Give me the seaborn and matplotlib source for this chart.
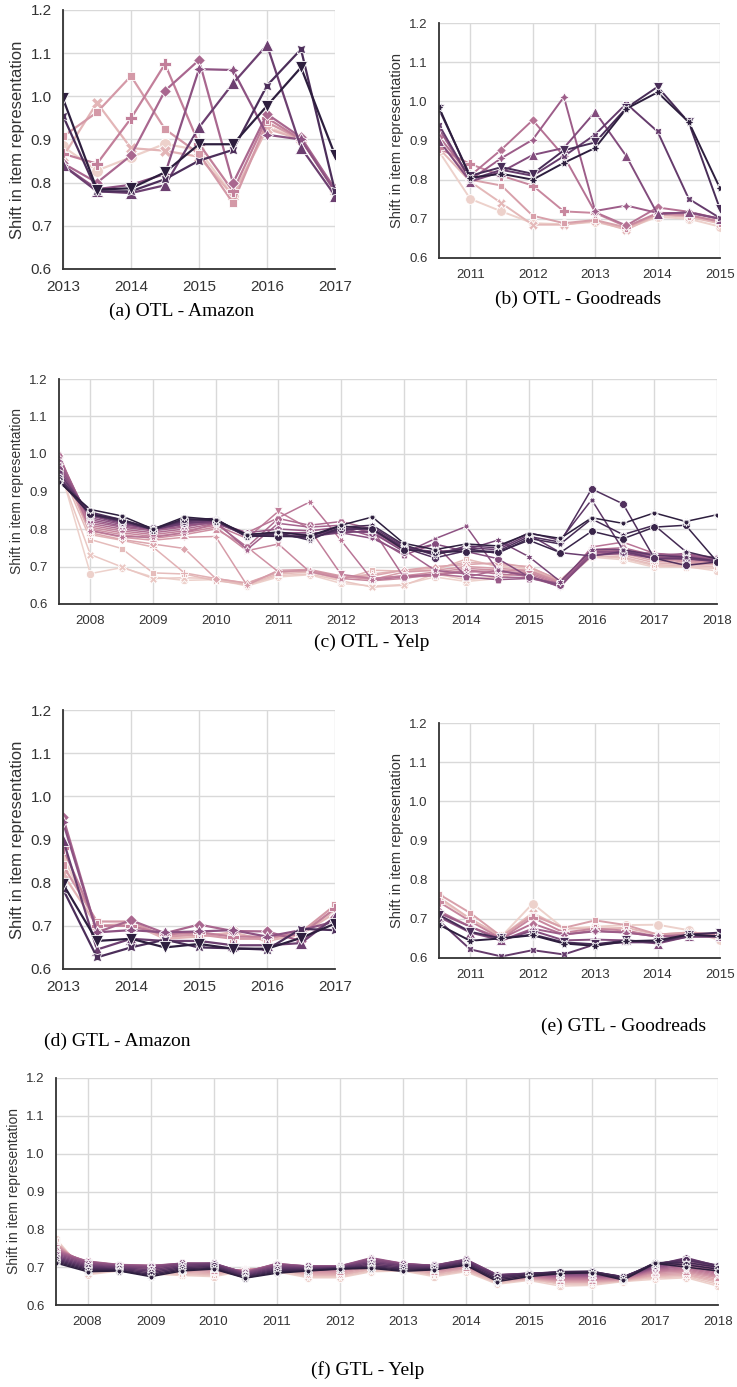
import matplotlib
matplotlib.use("Agg")
import matplotlib.pyplot as plt
import pandas as pd
import seaborn as sns

# --- DATA ---
amazon_years = [2013, 2013.5, 2014, 2014.5, 2015, 2015.5, 2016, 2016.5, 2017]
amazon_ticks = [2013, 2014, 2015, 2016, 2017]
goodreads_years = [2010.5, 2011, 2011.5, 2012, 2012.5, 2013, 2013.5, 2014, 2014.5, 2015]
goodreads_ticks = [2011, 2012, 2013, 2014, 2015]
yelp_years = [2007.5, 2008, 2008.5, 2009, 2009.5, 2010, 2010.5, 2011, 2011.5, 2012, 2012.5,
              2013, 2013.5, 2014, 2014.5, 2015, 2015.5, 2016, 2016.5, 2017, 2017.5, 2018]
yelp_ticks = [2008, 2009, 2010, 2011, 2012, 2013, 2014, 2015, 2016, 2017, 2018]
y_ticks = [0.6, 0.7, 0.8, 0.9, 1.0, 1.1, 1.2]

otl_amazon = [
    [0.884, 0.828, 0.859, 0.890, 0.875, 0.770, 0.930, 0.900, 0.780],
    [0.860, 0.985, 0.880, 0.874, 0.860, 0.770, 0.925, 0.900, 0.780],
    [0.907, 0.963, 1.047, 0.924, 0.867, 0.753, 0.940, 0.900, 0.780],
    [0.867, 0.844, 0.949, 1.075, 0.890, 0.780, 0.950, 0.900, 0.785],
    [0.845, 0.800, 0.863, 1.013, 1.084, 0.799, 0.959, 0.905, 0.785],
    [0.840, 0.785, 0.795, 0.820, 1.063, 1.061, 0.911, 0.900, 0.780],
    [0.840, 0.780, 0.776, 0.794, 0.928, 1.030, 1.119, 0.881, 0.770],
    [0.955, 0.780, 0.780, 0.808, 0.851, 0.876, 1.025, 1.109, 0.780],
    [0.995, 0.784, 0.787, 0.824, 0.889, 0.889, 0.978, 1.067, 0.864],
]

otl_goodreads = [
    [0.872, 0.751, 0.719, 0.689, 0.686, 0.692, 0.675, 0.705, 0.700, 0.680],
    [0.880, 0.795, 0.740, 0.685, 0.685, 0.695, 0.672, 0.710, 0.705, 0.688],
    [0.900, 0.800, 0.785, 0.708, 0.689, 0.697, 0.678, 0.712, 0.708, 0.695],
    [0.880, 0.840, 0.810, 0.785, 0.719, 0.715, 0.680, 0.715, 0.710, 0.692],
    [0.910, 0.810, 0.877, 0.952, 0.860, 0.717, 0.683, 0.729, 0.718, 0.700],
    [0.930, 0.800, 0.855, 0.902, 1.011, 0.720, 0.734, 0.715, 0.715, 0.700],
    [0.900, 0.795, 0.820, 0.863, 0.881, 0.973, 0.860, 0.712, 0.717, 0.700],
    [0.940, 0.800, 0.825, 0.810, 0.860, 0.915, 0.994, 0.923, 0.751, 0.702],
    [0.980, 0.810, 0.832, 0.815, 0.875, 0.895, 0.983, 1.037, 0.946, 0.725],
    [0.985, 0.805, 0.815, 0.800, 0.843, 0.881, 0.981, 1.023, 0.947, 0.778],
]

otl_yelp = [
    [0.970, 0.681, 0.697, 0.672, 0.663, 0.665, 0.648, 0.672, 0.678, 0.655, 0.648, 0.652, 0.672, 0.660, 0.668, 0.688, 0.655, 0.725, 0.718, 0.698, 0.700, 0.688],
    [0.960, 0.732, 0.699, 0.668, 0.670, 0.668, 0.650, 0.676, 0.680, 0.662, 0.645, 0.650, 0.680, 0.665, 0.672, 0.690, 0.657, 0.728, 0.722, 0.702, 0.698, 0.695],
    [0.970, 0.772, 0.748, 0.683, 0.680, 0.662, 0.652, 0.680, 0.685, 0.665, 0.690, 0.688, 0.690, 0.720, 0.700, 0.695, 0.660, 0.730, 0.725, 0.705, 0.702, 0.700],
    [0.980, 0.785, 0.770, 0.752, 0.683, 0.668, 0.655, 0.684, 0.688, 0.670, 0.680, 0.690, 0.695, 0.712, 0.705, 0.700, 0.662, 0.735, 0.730, 0.710, 0.705, 0.705],
    [0.990, 0.790, 0.772, 0.760, 0.748, 0.668, 0.656, 0.686, 0.690, 0.672, 0.675, 0.690, 0.700, 0.705, 0.710, 0.698, 0.664, 0.738, 0.735, 0.715, 0.708, 0.708],
    [0.980, 0.795, 0.778, 0.770, 0.778, 0.780, 0.650, 0.690, 0.692, 0.675, 0.665, 0.685, 0.690, 0.700, 0.695, 0.690, 0.660, 0.740, 0.740, 0.720, 0.712, 0.710],
    [0.990, 0.800, 0.785, 0.775, 0.785, 0.800, 0.752, 0.686, 0.690, 0.672, 0.668, 0.675, 0.685, 0.695, 0.690, 0.688, 0.658, 0.735, 0.745, 0.722, 0.715, 0.712],
    [0.980, 0.805, 0.790, 0.780, 0.790, 0.805, 0.742, 0.760, 0.686, 0.668, 0.662, 0.668, 0.680, 0.690, 0.685, 0.684, 0.655, 0.740, 0.740, 0.725, 0.718, 0.715],
    [0.990, 0.810, 0.795, 0.785, 0.795, 0.810, 0.775, 0.847, 0.800, 0.679, 0.668, 0.675, 0.678, 0.685, 0.688, 0.680, 0.652, 0.742, 0.745, 0.728, 0.720, 0.718],
    [1.000, 0.796, 0.780, 0.778, 0.790, 0.815, 0.790, 0.830, 0.872, 0.770, 0.664, 0.672, 0.675, 0.690, 0.680, 0.675, 0.650, 0.752, 0.765, 0.735, 0.725, 0.720],
    [0.995, 0.815, 0.800, 0.790, 0.800, 0.815, 0.752, 0.828, 0.810, 0.820, 0.800, 0.672, 0.680, 0.672, 0.690, 0.672, 0.652, 0.745, 0.750, 0.730, 0.728, 0.722],
    [0.990, 0.820, 0.805, 0.795, 0.805, 0.820, 0.745, 0.815, 0.805, 0.810, 0.790, 0.745, 0.690, 0.680, 0.672, 0.670, 0.648, 0.730, 0.740, 0.735, 0.730, 0.725],
    [0.980, 0.825, 0.808, 0.798, 0.808, 0.818, 0.790, 0.800, 0.795, 0.805, 0.780, 0.730, 0.760, 0.672, 0.665, 0.668, 0.655, 0.735, 0.742, 0.728, 0.735, 0.722],
    [0.970, 0.830, 0.812, 0.800, 0.812, 0.815, 0.785, 0.790, 0.790, 0.790, 0.775, 0.735, 0.774, 0.807, 0.690, 0.675, 0.645, 0.740, 0.738, 0.730, 0.728, 0.718],
    [0.960, 0.835, 0.815, 0.802, 0.815, 0.818, 0.785, 0.780, 0.785, 0.795, 0.790, 0.740, 0.760, 0.740, 0.721, 0.672, 0.650, 0.730, 0.735, 0.722, 0.725, 0.715],
    [0.950, 0.840, 0.820, 0.800, 0.818, 0.820, 0.780, 0.785, 0.780, 0.790, 0.795, 0.748, 0.740, 0.745, 0.770, 0.726, 0.660, 0.745, 0.745, 0.720, 0.722, 0.712],
    [0.950, 0.838, 0.818, 0.798, 0.815, 0.822, 0.785, 0.790, 0.785, 0.800, 0.800, 0.752, 0.735, 0.750, 0.745, 0.785, 0.737, 0.728, 0.740, 0.722, 0.720, 0.715],
    [0.940, 0.842, 0.822, 0.800, 0.820, 0.825, 0.780, 0.782, 0.778, 0.795, 0.805, 0.755, 0.730, 0.755, 0.750, 0.790, 0.770, 0.878, 0.745, 0.730, 0.725, 0.715],
    [0.935, 0.845, 0.825, 0.802, 0.822, 0.825, 0.782, 0.785, 0.775, 0.800, 0.800, 0.750, 0.723, 0.742, 0.740, 0.780, 0.765, 0.907, 0.867, 0.722, 0.703, 0.712],
    [0.930, 0.838, 0.822, 0.800, 0.825, 0.828, 0.778, 0.790, 0.770, 0.805, 0.810, 0.758, 0.732, 0.748, 0.735, 0.775, 0.760, 0.827, 0.785, 0.810, 0.740, 0.720],
    [0.930, 0.840, 0.825, 0.798, 0.828, 0.822, 0.782, 0.780, 0.780, 0.808, 0.800, 0.745, 0.738, 0.740, 0.738, 0.770, 0.737, 0.794, 0.774, 0.805, 0.810, 0.713],
    [0.925, 0.852, 0.835, 0.800, 0.832, 0.825, 0.785, 0.792, 0.782, 0.810, 0.832, 0.762, 0.745, 0.760, 0.755, 0.788, 0.775, 0.830, 0.815, 0.843, 0.820, 0.838],
]

gtl_amazon = [
    [0.860, 0.700, 0.700, 0.675, 0.680, 0.680, 0.670, 0.685, 0.735],
    [0.820, 0.700, 0.705, 0.670, 0.675, 0.685, 0.665, 0.680, 0.730],
    [0.840, 0.710, 0.710, 0.675, 0.680, 0.670, 0.670, 0.685, 0.748],
    [0.880, 0.700, 0.700, 0.680, 0.685, 0.675, 0.675, 0.680, 0.740],
    [0.952, 0.685, 0.713, 0.683, 0.703, 0.688, 0.687, 0.665, 0.720],
    [0.940, 0.685, 0.690, 0.685, 0.687, 0.690, 0.675, 0.690, 0.710],
    [0.900, 0.645, 0.670, 0.665, 0.665, 0.655, 0.655, 0.660, 0.720],
    [0.785, 0.627, 0.650, 0.668, 0.650, 0.648, 0.645, 0.693, 0.690],
    [0.797, 0.665, 0.670, 0.650, 0.658, 0.647, 0.647, 0.672, 0.705],
]

gtl_goodreads = [
    [0.750, 0.700, 0.655, 0.739, 0.675, 0.680, 0.684, 0.685, 0.671, 0.645],
    [0.755, 0.700, 0.655, 0.715, 0.675, 0.675, 0.677, 0.660, 0.665, 0.655],
    [0.763, 0.715, 0.655, 0.709, 0.677, 0.696, 0.684, 0.660, 0.665, 0.660],
    [0.743, 0.694, 0.650, 0.703, 0.665, 0.675, 0.670, 0.655, 0.660, 0.660],
    [0.720, 0.680, 0.650, 0.688, 0.660, 0.670, 0.665, 0.655, 0.660, 0.655],
    [0.715, 0.680, 0.645, 0.675, 0.660, 0.668, 0.665, 0.655, 0.655, 0.655],
    [0.705, 0.665, 0.645, 0.670, 0.645, 0.647, 0.645, 0.637, 0.655, 0.655],
    [0.695, 0.622, 0.604, 0.620, 0.609, 0.635, 0.640, 0.640, 0.655, 0.655],
    [0.710, 0.667, 0.650, 0.660, 0.640, 0.635, 0.645, 0.640, 0.660, 0.665],
    [0.685, 0.644, 0.650, 0.658, 0.637, 0.631, 0.643, 0.645, 0.660, 0.655],
]

gtl_yelp = [
    [0.775, 0.680, 0.690, 0.682, 0.678, 0.675, 0.690, 0.688, 0.672, 0.672, 0.688, 0.690, 0.675, 0.688, 0.655, 0.665, 0.650, 0.652, 0.662, 0.668, 0.672, 0.650],
    [0.770, 0.682, 0.692, 0.685, 0.680, 0.678, 0.692, 0.690, 0.675, 0.675, 0.690, 0.692, 0.678, 0.690, 0.658, 0.667, 0.655, 0.655, 0.663, 0.672, 0.675, 0.655],
    [0.768, 0.686, 0.694, 0.688, 0.683, 0.680, 0.693, 0.693, 0.678, 0.678, 0.693, 0.694, 0.680, 0.692, 0.660, 0.668, 0.658, 0.658, 0.664, 0.675, 0.678, 0.660],
    [0.765, 0.690, 0.696, 0.690, 0.686, 0.683, 0.694, 0.695, 0.680, 0.680, 0.695, 0.696, 0.683, 0.695, 0.662, 0.670, 0.660, 0.660, 0.665, 0.678, 0.680, 0.664],
    [0.762, 0.694, 0.697, 0.692, 0.689, 0.686, 0.695, 0.697, 0.683, 0.683, 0.698, 0.698, 0.685, 0.697, 0.664, 0.671, 0.662, 0.662, 0.666, 0.680, 0.683, 0.668],
    [0.760, 0.698, 0.699, 0.694, 0.692, 0.689, 0.693, 0.699, 0.686, 0.686, 0.701, 0.700, 0.688, 0.699, 0.666, 0.672, 0.664, 0.664, 0.667, 0.683, 0.686, 0.672],
    [0.756, 0.702, 0.700, 0.696, 0.695, 0.692, 0.692, 0.701, 0.689, 0.689, 0.704, 0.702, 0.690, 0.701, 0.668, 0.674, 0.666, 0.666, 0.668, 0.686, 0.689, 0.675],
    [0.753, 0.706, 0.702, 0.698, 0.698, 0.695, 0.691, 0.703, 0.692, 0.692, 0.707, 0.704, 0.693, 0.704, 0.670, 0.675, 0.668, 0.668, 0.669, 0.688, 0.692, 0.678],
    [0.750, 0.710, 0.703, 0.700, 0.701, 0.698, 0.690, 0.705, 0.695, 0.695, 0.710, 0.706, 0.695, 0.706, 0.672, 0.676, 0.670, 0.670, 0.670, 0.690, 0.695, 0.681],
    [0.747, 0.713, 0.705, 0.702, 0.704, 0.701, 0.689, 0.707, 0.698, 0.698, 0.714, 0.708, 0.698, 0.709, 0.674, 0.678, 0.672, 0.672, 0.671, 0.692, 0.698, 0.684],
    [0.744, 0.715, 0.706, 0.704, 0.707, 0.704, 0.688, 0.709, 0.700, 0.700, 0.718, 0.709, 0.700, 0.712, 0.676, 0.679, 0.674, 0.674, 0.672, 0.694, 0.702, 0.687],
    [0.741, 0.716, 0.707, 0.705, 0.709, 0.707, 0.687, 0.710, 0.702, 0.702, 0.722, 0.710, 0.702, 0.715, 0.677, 0.680, 0.676, 0.676, 0.673, 0.696, 0.706, 0.690],
    [0.738, 0.714, 0.706, 0.704, 0.710, 0.709, 0.686, 0.709, 0.703, 0.703, 0.725, 0.710, 0.704, 0.718, 0.678, 0.681, 0.678, 0.678, 0.673, 0.698, 0.710, 0.693],
    [0.735, 0.712, 0.705, 0.702, 0.711, 0.710, 0.685, 0.707, 0.703, 0.703, 0.723, 0.709, 0.705, 0.720, 0.679, 0.682, 0.680, 0.680, 0.674, 0.700, 0.714, 0.696],
    [0.732, 0.709, 0.703, 0.700, 0.710, 0.711, 0.684, 0.705, 0.702, 0.702, 0.720, 0.708, 0.705, 0.721, 0.680, 0.683, 0.682, 0.682, 0.674, 0.702, 0.718, 0.699],
    [0.729, 0.706, 0.701, 0.697, 0.708, 0.710, 0.682, 0.702, 0.700, 0.701, 0.716, 0.706, 0.704, 0.720, 0.680, 0.684, 0.684, 0.684, 0.675, 0.704, 0.722, 0.701],
    [0.726, 0.703, 0.699, 0.693, 0.705, 0.708, 0.680, 0.699, 0.698, 0.700, 0.712, 0.704, 0.702, 0.718, 0.679, 0.684, 0.686, 0.686, 0.675, 0.706, 0.725, 0.703],
    [0.723, 0.700, 0.697, 0.689, 0.702, 0.705, 0.678, 0.696, 0.696, 0.699, 0.708, 0.701, 0.700, 0.715, 0.677, 0.684, 0.687, 0.688, 0.675, 0.708, 0.722, 0.705],
    [0.720, 0.697, 0.695, 0.685, 0.699, 0.702, 0.676, 0.693, 0.694, 0.698, 0.704, 0.698, 0.698, 0.712, 0.674, 0.683, 0.688, 0.689, 0.674, 0.710, 0.718, 0.704],
    [0.717, 0.694, 0.693, 0.681, 0.696, 0.699, 0.674, 0.690, 0.692, 0.697, 0.701, 0.695, 0.696, 0.709, 0.670, 0.681, 0.688, 0.689, 0.672, 0.712, 0.712, 0.700],
    [0.714, 0.691, 0.691, 0.678, 0.693, 0.697, 0.672, 0.687, 0.691, 0.696, 0.699, 0.692, 0.694, 0.707, 0.666, 0.678, 0.686, 0.687, 0.669, 0.712, 0.706, 0.695],
    [0.711, 0.688, 0.690, 0.675, 0.690, 0.695, 0.671, 0.684, 0.690, 0.695, 0.697, 0.689, 0.693, 0.705, 0.662, 0.675, 0.683, 0.685, 0.666, 0.710, 0.700, 0.690],
]

# --- FIGURE ---
W, H = 737, 1387
sns.set_theme(style="whitegrid")
plt.rcParams["font.family"] = ["Liberation Sans", "DejaVu Sans"]
plt.rcParams["grid.color"] = "#d9d9d9"
TEXT = "#333333"

fig = plt.figure(figsize=(W / 100, H / 100), dpi=100)


def px_rect(left, top, right, bottom):
    # pixel box -> figure fraction
    return [left / W, 1 - bottom / H, (right - left) / W, (bottom - top) / H]


def draw_panel(box, years, values, xticks, tick_fs, label_fs, ms, lw):
    ax = fig.add_axes(px_rect(*box))
    rows = []
    for k, vals in enumerate(values):
        for yr, v in zip(years, vals):
            rows.append({"year": yr, "shift": v, "series": k})
    df = pd.DataFrame(rows)
    sns.lineplot(data=df, x="year", y="shift", hue="series", style="series",
                 markers=True, dashes=False, legend=False, errorbar=None,
                 markersize=ms, linewidth=lw, markeredgewidth=0.6, ax=ax)
    ax.set_xlim(years[0], years[-1])
    ax.set_ylim(0.6, 1.2)
    ax.set_xticks(xticks)
    ax.set_xticklabels([str(x) for x in xticks], fontsize=tick_fs, color=TEXT)
    ax.set_yticks(y_ticks)
    ax.set_yticklabels([f"{y:.1f}" for y in y_ticks], fontsize=tick_fs, color=TEXT)
    ax.tick_params(axis="both", pad=2)
    ax.set_xlabel("")
    ax.set_ylabel("Shift in item representation", fontsize=label_fs, color=TEXT)
    ax.spines["top"].set_visible(False)
    ax.spines["right"].set_visible(False)
    for side in ["left", "bottom"]:
        ax.spines[side].set_color(TEXT)
        ax.spines[side].set_linewidth(1.3)
    return ax


draw_panel((63, 10, 335, 269), amazon_years, otl_amazon, amazon_ticks, 11, 12, 8.5, 1.6)
draw_panel((439, 23, 720, 258), goodreads_years, otl_goodreads, goodreads_ticks, 9.5, 10.5, 7, 1.4)
draw_panel((59, 379, 717, 604), yelp_years, otl_yelp, yelp_ticks, 9.5, 10, 6, 1.1)
draw_panel((63, 710, 335, 969), amazon_years, gtl_amazon, amazon_ticks, 11, 12, 8.5, 1.6)
draw_panel((439, 723, 720, 958), goodreads_years, gtl_goodreads, goodreads_ticks, 9.5, 10.5, 7, 1.4)
draw_panel((56, 1078, 718, 1305), yelp_years, gtl_yelp, yelp_ticks, 9.5, 10, 6, 1.1)

captions = [
    ("(a) OTL - Amazon", 182, 311),
    ("(b) OTL - Goodreads", 578, 299),
    ("(c) OTL - Yelp", 372, 642),
    ("(d) GTL - Amazon", 117, 1041),
    ("(e) GTL - Goodreads", 624, 1026),
    ("(f) GTL - Yelp", 368, 1370),
]
for text, cx, cy in captions:
    fig.text(cx / W, 1 - cy / H, text, ha="center", va="center",
             family="Liberation Serif", fontsize=14, color="black")

fig.savefig("out.png", dpi=100)
